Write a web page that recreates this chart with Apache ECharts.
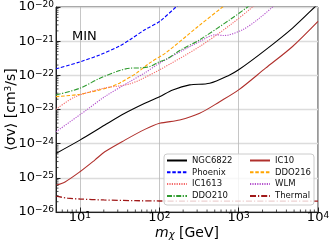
<!DOCTYPE html>
<html><head><meta charset="utf-8">
<script src="https://cdn.jsdelivr.net/npm/echarts@6/dist/echarts.min.js"></script>
<style>html,body{margin:0;padding:0;background:#fff}#c{width:332px;height:249px}</style>
</head><body><div id="c"></div>
<script>
// ---- data (mass in GeV, <sigma v> in cm^3/s) ----
const xTicks = [10, 100, 1000, 10000];
const yTicks = [1e-26, 1e-25, 1e-24, 1e-23, 1e-22, 1e-21, 1e-20];
const ngc6822 = [[5,5.19e-25],[10,1.27e-24],[20.6,3.51e-24],[36.8,7.74e-24],[65.8,1.52e-23],[101,2.38e-23],[148,3.74e-23],[242,5.25e-23],[432,5.89e-23],[771,1.03e-22],[1000,1.45e-22],[2186,5.58e-22],[4780,2.42e-21],[9300,1.05e-20],[10000,1.25e-20]];
const ic10 = [[5,6.08e-26],[6.5,7.6e-26],[10,1.5e-25],[15.4,3.3e-25],[20.6,5.78e-25],[36.8,1.27e-24],[65.8,2.62e-24],[101,3.94e-24],[181,4.92e-24],[323,7.74e-24],[577,1.69e-23],[1000,3.74e-23],[2186,1.62e-22],[4780,6.98e-22],[10000,3.78e-21]];
const phoenix = [[5,1.55e-22],[10,2.48e-22],[17.9,3.98e-22],[31.8,7.31e-22],[42.6,1.1e-21],[65.8,2.16e-21],[101,3.78e-21],[167,1.05e-20],[200,1.4e-20]];
const ddo216 = [[5,2.38e-23],[10,2.79e-23],[23.8,4.49e-23],[31.8,6.0e-23],[52.1,1.18e-22],[76,2.32e-22],[121,4.56e-22],[305,2.64e-21],[629,1.0e-20],[700,1.2e-20]];
const ic1613 = [[5,1.01e-23],[8.65,2.33e-23],[20.6,4.28e-23],[31.8,4.9e-23],[42.6,5.61e-23],[56.9,7.34e-23],[101,1.45e-22],[323,6.98e-22],[771,2.9e-21],[1500,1.0e-20],[1700,1.3e-20]];
const wlm = [[5,2.23e-24],[12.14,9.68e-24],[20.6,2.38e-23],[42.6,6.55e-23],[65.8,1.18e-22],[101,2.27e-22],[323,9.77e-22],[514,1.54e-21],[648,1.46e-21],[1122,2.16e-21],[1727,4.24e-21],[2680,1.0e-20],[3000,1.3e-20]];
const ddo210 = [[5,2.67e-23],[10,4.2e-23],[17.9,8.24e-23],[31.8,1.38e-22],[42.6,1.62e-22],[56.9,1.65e-22],[76,1.81e-22],[101,2.53e-22],[121,2.9e-22],[181,5.3e-22],[323,1.1e-21],[771,4.2e-21],[1297,1.0e-20],[1400,1.2e-20]];
const thermal = [[5,2.9e-26],[7,2.55e-26],[10,2.4e-26],[20,2.25e-26],[50,2.15e-26],[100,2.1e-26],[1000,2.07e-26],[10000,2.07e-26]];
const leftNames = ['NGC6822','Phoenix','IC1613','DDO210'];
const rightNames = ['IC10','DDO216','WLM','Thermal'];

const FONT = 'DejaVu Sans';
// ECharts loses precision below ~1e-20, so the y values are handed to it in units of 1e-26 cm^3/s
const UNIT_EXP = 26;
const UNIT = Math.pow(10, UNIT_EXP);
const X_MIN = 5, X_MAX = 10000, Y_MIN = 1e-26 * UNIT, Y_MAX = 1e-20 * UNIT;
const toUnit = arr => arr.map(p => [p[0], p[1] * UNIT]);
const yTicksU = yTicks.map(v => v * UNIT);

function isTick(v, list){ return list.some(t => Math.abs(v/t - 1) < 1e-6); }
function powLabel(v, list, shift){
  if(!isTick(v, list)) return '';
  const e = Math.round(Math.log10(v)) - shift;
  return '{b|10}{s|' + (e < 0 ? '\u2212' + (-e) : e) + '}';
}
const labelRich = {
  b: {fontFamily: FONT, fontSize: 13, color: '#000', lineHeight: 13, verticalAlign: 'bottom'},
  s: {fontFamily: FONT, fontSize: 9, color: '#000', lineHeight: 9, padding: [0,0,7,0], verticalAlign: 'top'}
};

// minor tick positions (axis decoration)
const xMinor = [], yMinor = [];
for (let e = 0; e <= 3; e++) for (let k = 2; k <= 9; k++) { const v = k * Math.pow(10, e); if (v > X_MIN && v < X_MAX) xMinor.push([v, Y_MIN]); }
for (let e = 0; e <= 5; e++) for (let k = 2; k <= 9; k++) yMinor.push([X_MIN, k * Math.pow(10, e)]);

function line(name, data, color, type, width){
  return {name, type: 'line', data: toUnit(data), symbol: 'none', showSymbol: false, smooth: 0.3, clip: true,
    lineStyle: {color, type, width: width || 1.1}, itemStyle: {color}, z: 3};
}
const legendCommon = {orient: 'vertical', top: 156, padding: 0, itemWidth: 20, itemHeight: 10, itemGap: 2.8,
  selectedMode: false, z: 10, itemStyle: {opacity: 0}, textStyle: {fontFamily: FONT, fontSize: 8.5, color: '#111'}};

const chart = echarts.init(document.getElementById('c'), null, {renderer: 'canvas'});
chart.setOption({
  animation: false,
  backgroundColor: '#fff',
  title: {text: 'MIN', left: 72, top: 30, padding: 0,
    textStyle: {fontFamily: FONT, fontSize: 13, fontWeight: 'normal', color: '#000'}},
  grid: {left: 56, right: 14, top: 7, bottom: 37, show: true, borderColor: '#333', borderWidth: 1,
    containLabel: false, outerBoundsMode: 'none'},
  xAxis: {type: 'log', logBase: 10, min: X_MIN, max: X_MAX,
    name: '{i|m}{sub|\u03c7}{n| [GeV]}', nameLocation: 'middle', nameGap: 14, nameMoveOverlap: false,
    nameTextStyle: {rich: {
      i: {fontFamily: FONT, fontSize: 14, fontStyle: 'italic', color: '#000', lineHeight: 14, verticalAlign: 'top'},
      sub: {fontFamily: FONT, fontSize: 10, fontStyle: 'italic', color: '#000', lineHeight: 10, padding: [5,0,0,0], verticalAlign: 'bottom'},
      n: {fontFamily: FONT, fontSize: 14, color: '#000', lineHeight: 14, verticalAlign: 'top'}}},
    axisLine: {lineStyle: {color: '#222', width: 1}},
    axisTick: {inside: true, length: 4.5, lineStyle: {color: '#222'}},
    axisLabel: {margin: -1, formatter: v => powLabel(v, xTicks, 0), rich: labelRich},
    splitLine: {show: true, lineStyle: {color: '#b8b8b8', width: 0.8}}
  },
  yAxis: {type: 'log', logBase: 10, min: Y_MIN, max: Y_MAX,
    name: '{n|\u27e8\u03c3v\u27e9 [cm}{s|3}{n|/s]}', nameLocation: 'middle', nameGap: 38, nameRotate: 90, nameMoveOverlap: false,
    nameTextStyle: {rich: {
      n: {fontFamily: FONT, fontSize: 14, color: '#000', lineHeight: 14, verticalAlign: 'bottom'},
      s: {fontFamily: FONT, fontSize: 9, color: '#000', lineHeight: 9, padding: [0,0,6,0], verticalAlign: 'top'}}},
    axisLine: {lineStyle: {color: '#222', width: 1}},
    axisTick: {inside: true, length: 4.5, lineStyle: {color: '#222'}},
    axisLabel: {margin: 2, formatter: v => powLabel(v, yTicksU, UNIT_EXP), rich: labelRich},
    splitLine: {show: true, lineStyle: {color: '#dcdcdc', width: 1.4}}
  },
  legend: [
    Object.assign({data: leftNames, left: 166}, legendCommon),
    Object.assign({data: rightNames, left: 249}, legendCommon)
  ],
  graphic: [{type: 'rect', z: 8, shape: {x: 164, y: 154, width: 150, height: 51, r: 3},
    style: {fill: 'rgba(255,255,255,0.8)', stroke: '#cccccc', lineWidth: 1}}],
  series: [
    line('NGC6822', ngc6822, '#000000', 'solid'),
    line('IC10', ic10, '#b0302c', 'solid'),
    line('Phoenix', phoenix, '#0000ff', [3.5, 1.8]),
    line('DDO216', ddo216, '#ffa500', [3.5, 1.8]),
    line('IC1613', ic1613, '#f46a6a', [1.2, 1.2]),
    line('WLM', wlm, '#b452cd', [1.2, 1.2]),
    line('DDO210', ddo210, '#2e9b2e', [5, 1.5, 1.2, 1.5]),
    line('Thermal', thermal, '#a01818', [6, 2, 1.2, 2], 1.3),
    {type: 'custom', name: 'xminor', data: xMinor, silent: true, z: 4,
      renderItem: (p, api) => { const c = api.coord([api.value(0), Y_MIN]);
        return {type: 'line', shape: {x1: c[0], y1: c[1], x2: c[0], y2: c[1] - 2.5}, style: {stroke: '#222', lineWidth: 0.8}}; }},
    {type: 'custom', name: 'yminor', data: yMinor, silent: true, z: 4,
      renderItem: (p, api) => { const c = api.coord([X_MIN, api.value(1)]);
        return {type: 'line', shape: {x1: c[0], y1: c[1], x2: c[0] + 2.5, y2: c[1]}, style: {stroke: '#222', lineWidth: 0.8}}; }}
  ]
});
</script></body></html>
